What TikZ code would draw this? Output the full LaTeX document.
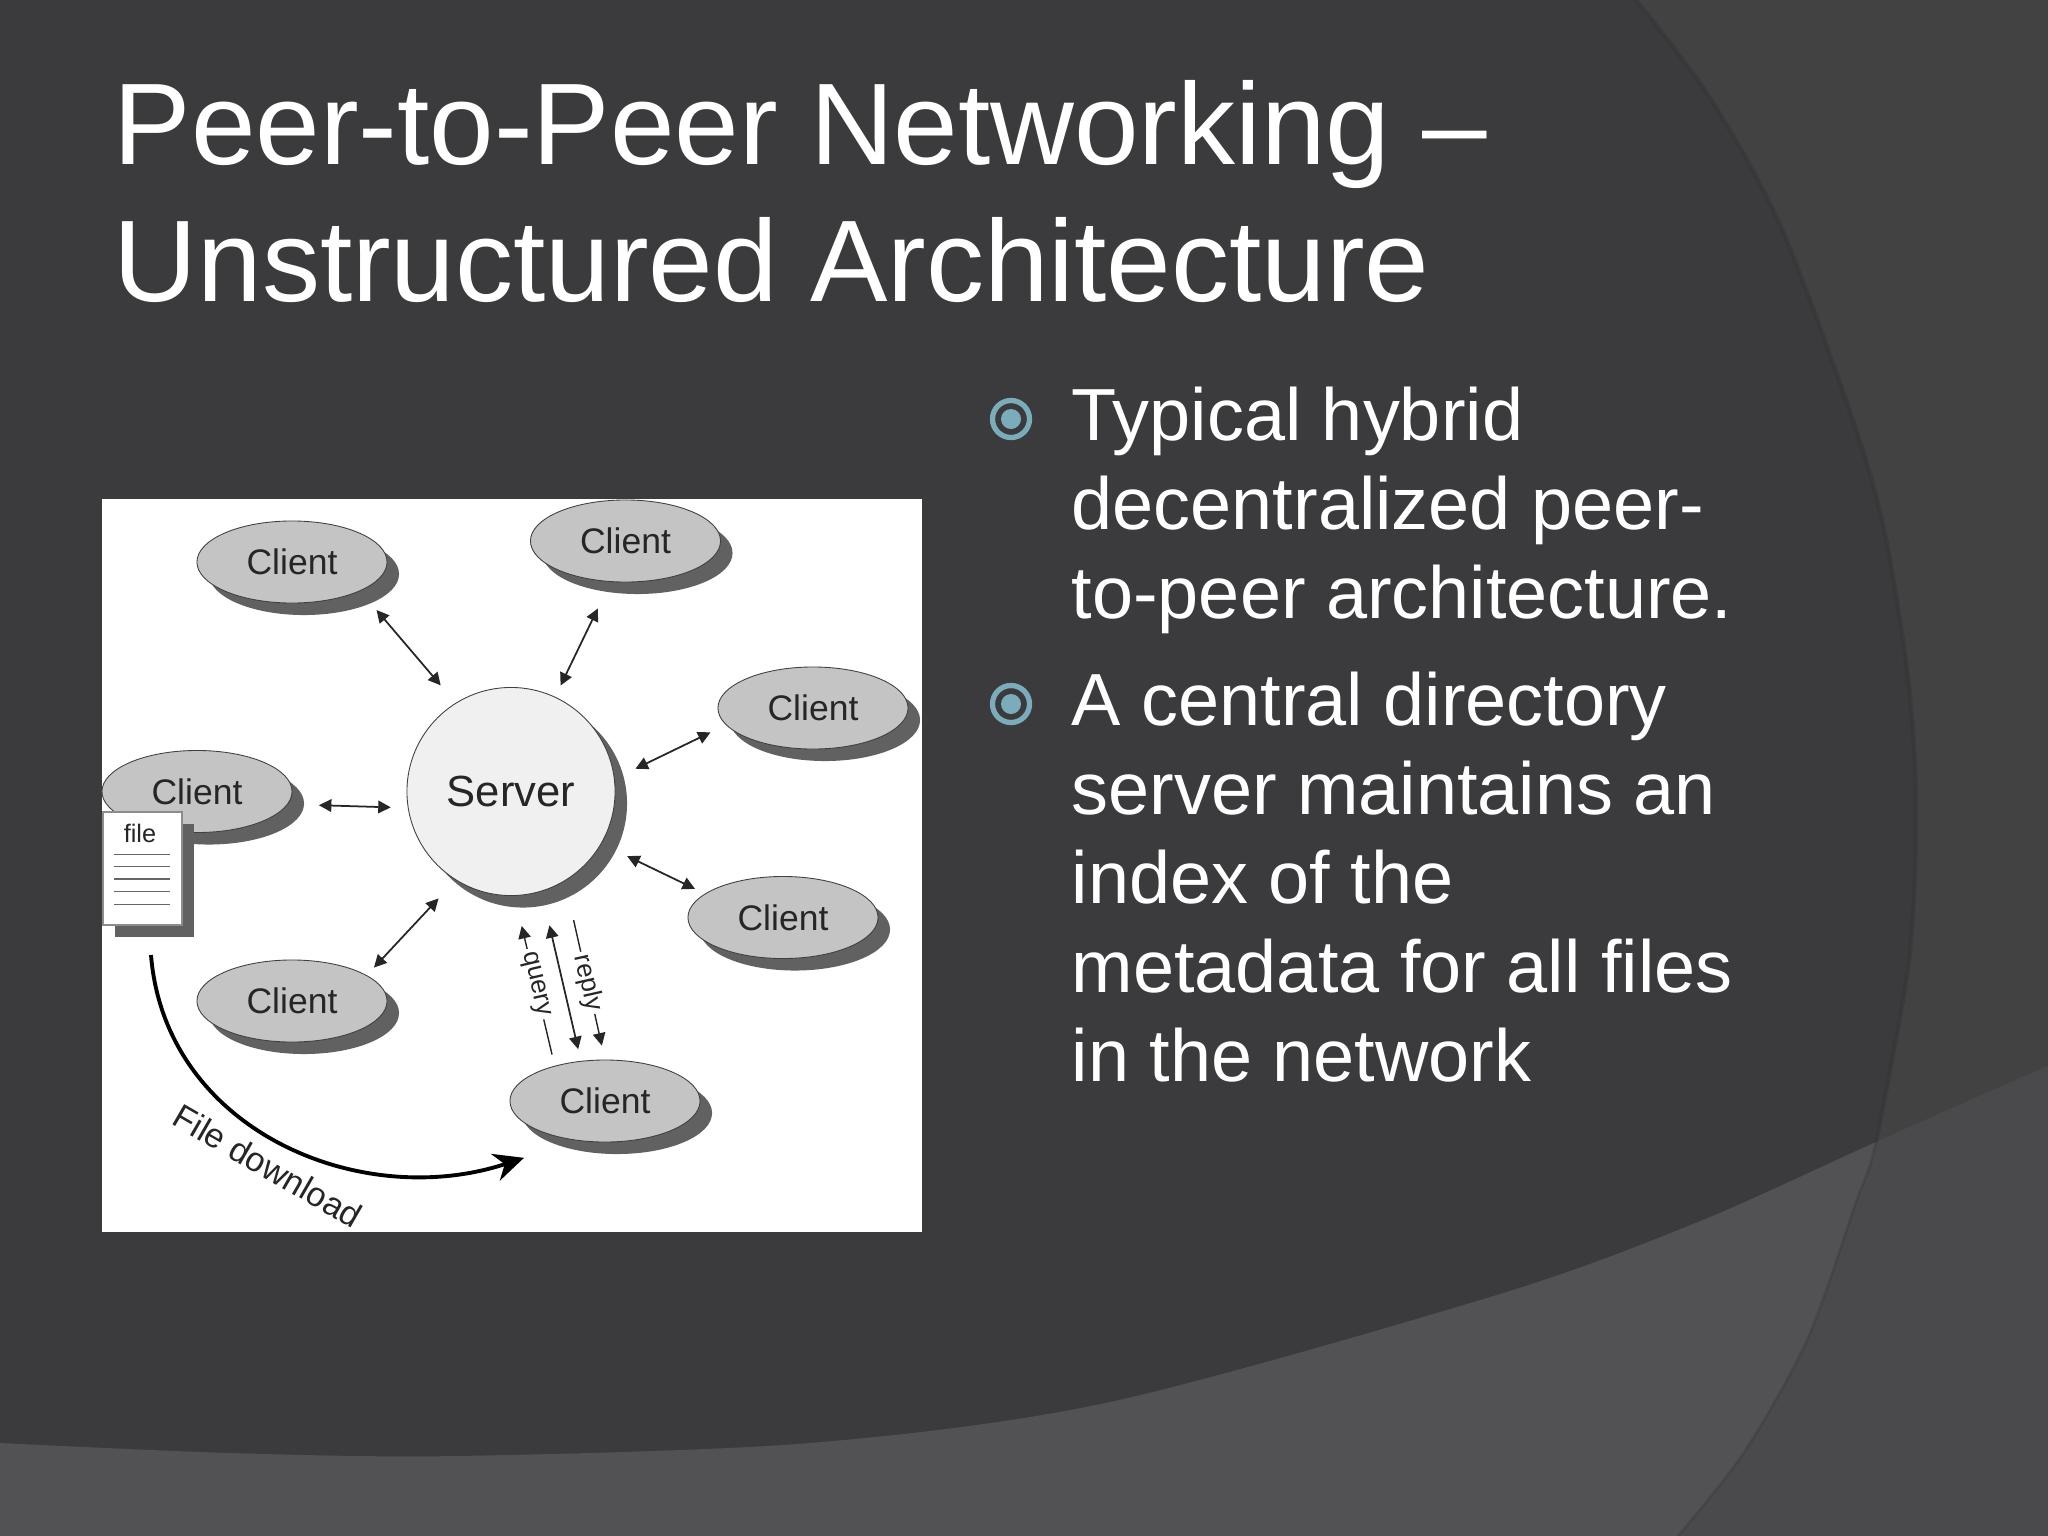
\documentclass[tikz,border=0pt]{standalone}
\usepackage{fontspec}
\setmainfont{Liberation Sans}
\usetikzlibrary{shapes.geometric,shadows,arrows.meta}
\definecolor{slatebg}{HTML}{3B3A3C}
\definecolor{slatecorner}{HTML}{424243}
\definecolor{slateband}{HTML}{525153}
\definecolor{slatebandr}{HTML}{4A494B}
\definecolor{slateedge}{HTML}{353436}
\definecolor{bulletblue}{HTML}{7BACBC}

\begin{document}
\begin{tikzpicture}[x=0.01cm,y=-0.01cm]
    \tikzstyle{client}=[ellipse, draw=black!75, fill=black!23, line width=0.25pt, minimum width=1.9cm, minimum height=0.82cm, inner sep=0pt, font=\fontsize{10.1}{12}\selectfont, text=black!85, general shadow={shadow xshift=0.12cm, shadow yshift=-0.12cm, fill=black!62}]
    \tikzstyle{server}=[circle, draw=black!75, fill=black!6, line width=0.25pt, minimum size=2.08cm, inner sep=0pt, font=\fontsize{12.4}{14}\selectfont, text=black!85, general shadow={shadow xshift=0.12cm, shadow yshift=-0.12cm, fill=black!62}]
    \tikzstyle{filedoc}=[rectangle, draw=black!45, fill=white, line width=0.4pt, minimum width=0.79cm, minimum height=1.13cm, inner sep=0pt, general shadow={shadow xshift=0.12cm, shadow yshift=-0.12cm, fill=black!62}]
    \tikzstyle{edge}=[draw=black!85, line width=0.5pt, {Stealth[length=1.25mm,width=1.25mm,inset=0pt]}-{Stealth[length=1.25mm,width=1.25mm,inset=0pt]}]
    \tikzstyle{ring}=[circle, draw=bulletblue, line width=1.5pt, minimum size=0.37cm, inner sep=0pt]
    \tikzstyle{ringdot}=[circle, fill=bulletblue, minimum size=0.2cm, inner sep=0pt]
    \tikzstyle{bodytext}=[anchor=north west, align=left, inner sep=0pt, text=white, font=\fontsize{21}{25.3}\selectfont]
    \tikzstyle{vlabel}=[fill=white, inner sep=1pt, text=black!85, font=\fontsize{7.4}{8}\selectfont]

    \useasboundingbox (0,0) rectangle (2048,1536);

    % slide background
    \fill[slatebg] (0,0) rectangle (2048,1536);
    \fill[slatecorner] plot[smooth] coordinates {(1636,0) (1710,98) (1780,225) (1850,412) (1884,529) (1909,686) (1916,814) (1909,961) (1876,1142)} -- (2048,1142) -- (2048,0) -- cycle;
    \begin{scope}
        \clip (0,0) rectangle (2048,1536);
        \fill[slateband] plot[smooth] coordinates {(0,1443) (230,1453) (457,1456) (810,1443) (1110,1402) (1500,1294) (1698,1222) (1876,1142) (2048,1066)} -- (2048,1536) -- (0,1536) -- cycle;
        \begin{scope}
            \clip plot[smooth] coordinates {(0,1443) (230,1453) (457,1456) (810,1443) (1110,1402) (1500,1294) (1698,1222) (1876,1142) (2048,1066)} -- (2048,1536) -- (0,1536) -- cycle;
            \fill[slatebandr] plot[smooth] coordinates {(1909,961) (1876,1142) (1855,1205) (1808,1338) (1745,1451) (1678,1536)} -- (2048,1536) -- (2048,961) -- cycle;
            \draw[slateedge, line width=0.8pt, opacity=0.3] plot[smooth] coordinates {(1909,961) (1876,1142) (1855,1205) (1808,1338) (1745,1451) (1678,1536)};
        \end{scope}
        \draw[slateedge, line width=1.2pt, opacity=0.6] plot[smooth] coordinates {(1636,0) (1710,98) (1780,225) (1850,412) (1884,529) (1909,686) (1916,814) (1909,961) (1876,1142)};
    \end{scope}

    % title and bullets
    \node[anchor=base west, inner sep=0pt, text=white, font=\fontsize{33}{39}\selectfont] (title1) at (113,164) {Peer-to-Peer Networking --};
    \node[anchor=base west, inner sep=0pt, text=white, font=\fontsize{33}{39}\selectfont] (title2) at (113,301) {Unstructured Architecture};

    \node[ring] (bullet1) at (1011,419) {};
    \node[ringdot] (dot1) at (bullet1) {};
    \node[ring] (bullet2) at (1011,704) {};
    \node[ringdot] (dot2) at (bullet2) {};
    \node[bodytext] (body1) at (1071,386) {Typical hybrid\\decentralized peer-\\to-peer architecture.};
    \node[bodytext] (body2) at (1071,671) {A central directory\\server maintains an\\index of the\\metadata for all files\\in the network};

    % the network figure
    \node[fill=white, minimum width=8.2cm, minimum height=7.32cm, inner sep=0pt] (figure) at (512,865.5) {};

    \node[client] (c1) at (292,562) {Client};
    \node[client] (c2) at (625.5,541) {Client};
    \node[client] (c3) at (813,708) {Client};
    \node[client] (c4) at (197,791.5) {Client};
    \node[client] (c5) at (783,917.5) {Client};
    \node[client] (c6) at (292,1001) {Client};
    \node[client] (c7) at (605,1101) {Client};
    \node[server] (s) at (511,791.5) {Server};

    \node[filedoc] (doc) at (142.5,868.5) {};
    \node[inner sep=0pt, text=black!85, font=\fontsize{7.2}{9}\selectfont] (doclabel) at (140,833) {file};
    \foreach \y in {854.5,866.6,878.8,891.4,904.4}
        \draw[black!60, line width=0.4pt] (114,\y) -- (170,\y);

    \foreach \source/\dest/\gapa/\gapb in {c1.-23/s.122.5/2.5mm/2.3mm, c2.250/s.65.2/2.95mm/1.25mm, c3.191/s.7.5/1.7mm/2.3mm, c4.-8.5/s.189.7/3.1mm/1.7mm, c5.163/s.-30/1.1mm/2.85mm, c6.19.4/s.238.6/1.05mm/2.5mm, s.-73.6/c7.121/3.47mm/1.2mm}
        \path[edge, shorten <=\gapa, shorten >=\gapb] (\source) -- (\dest);

    \draw[draw=black!85, line width=0.4pt, {Stealth[length=1.25mm,width=1.25mm,inset=0pt]}-, shorten <=3.08mm, shorten >=1.15mm] (s.-88) -- node[vlabel, sloped, pos=0.52] (querylabel) {query} (c7.145);
    \draw[draw=black!85, line width=0.4pt, -{Stealth[length=1.25mm,width=1.25mm,inset=0pt]}, shorten <=4mm, shorten >=1.43mm] (s.-59.4) -- node[vlabel, sloped, pos=0.57] (replylabel) {reply} (c7.90);

    % file download
    \coordinate (dlstart) at (151,955);
    \draw[black, line width=1.1pt, -{Stealth[length=3mm,width=2.8mm]}, shorten >=5.5mm] (dlstart) .. controls (165,1130) and (360,1212) .. (c7.234);
    \node[rotate=-30, inner sep=0pt, text=black!85, font=\fontsize{9.7}{12}\selectfont] (dllabel) at (268,1166) {File download};
\end{tikzpicture}
\end{document}
